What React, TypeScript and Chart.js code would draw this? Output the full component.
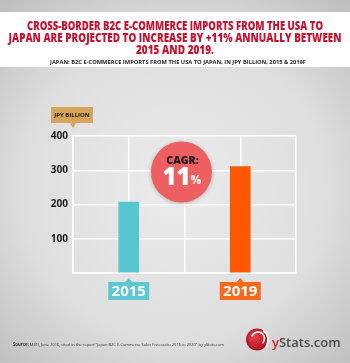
import React, { useEffect, useRef } from "react";
import { Chart, registerables } from "chart.js";

Chart.register(...registerables);

const titleLines = [
  "CROSS-BORDER B2C E-COMMERCE IMPORTS FROM THE USA TO",
  "JAPAN ARE PROJECTED TO INCREASE BY +11% ANNUALLY BETWEEN",
  "2015 AND 2019.",
];
const subtitle = "JAPAN: B2C E-COMMERCE IMPORTS FROM THE USA TO JAPAN, IN JPY BILLION, 2015 & 2019F";
const categories = ["2015", "2019"];
const values = [207, 311];
const barColors = ["#56c6d0", "#ff5800"];
const labelColors = ["#5bc8d2", "#f76a1c"];
const yMax = 400;
const yStep = 100;
const unitLabel = "JPY BILLION";
const cagrLabel = "CAGR:";
const cagrValue = "11";
const sourceBold = "Source:";
const sourceText = " METI, June 2016, cited in the report \"Japan B2C E-Commerce Sales Forecasts: 2016 to 2020\" by yStats.com";

// category slots: empty slot between/around the bars
const slotLabels: string[] = ["", categories[0], "", categories[1], ""];
const slotValues: (number | null)[] = [null, values[0], null, values[1], null];
const slotColors: string[] = ["transparent", barColors[0], "transparent", barColors[1], "transparent"];

const FONT = "'Open Sans', 'Noto Sans', sans-serif";

function roundRect(ctx: CanvasRenderingContext2D, x: number, y: number, w: number, h: number) {
  ctx.beginPath();
  ctx.rect(x, y, w, h);
  ctx.closePath();
}

const decorPlugin = {
  id: "decor",
  beforeDraw(chart: any) {
    const ctx: CanvasRenderingContext2D = chart.ctx;
    const W = chart.width, H = chart.height;
    ctx.save();
    const g = ctx.createRadialGradient(W / 2, H * 0.52, 10, W / 2, H * 0.52, 270);
    g.addColorStop(0, "#ebebeb");
    g.addColorStop(0.55, "#dedede");
    g.addColorStop(1, "#b9b9b9");
    ctx.fillStyle = g;
    ctx.fillRect(0, 0, W, H);
    // header band
    ctx.fillStyle = "#ffffff";
    ctx.fillRect(0, 12, W, 55);
    ctx.restore();
  },
  afterDatasetsDraw(chart: any) {
    const ctx: CanvasRenderingContext2D = chart.ctx;
    const xs = chart.scales.x;
    const ys = chart.scales.y;
    const area = chart.chartArea;
    ctx.save();

    // title
    ctx.fillStyle = "#c8112f";
    ctx.textAlign = "center";
    ctx.textBaseline = "middle";
    ctx.font = `800 12.5px ${FONT}`;
    const tw = [296, 333, 78];
    const ty = [26, 38, 50];
    titleLines.forEach((t, i) => ctx.fillText(t, 175, ty[i], tw[i]));
    ctx.fillStyle = "#222";
    ctx.font = `700 6px ${FONT}`;
    ctx.fillText(subtitle, 178, 62, 256);

    // unit label box
    const ux = area.left;
    ctx.fillStyle = "#d6a55a";
    roundRect(ctx, ux - 22, 107, 42, 16);
    ctx.fill();
    ctx.beginPath();
    ctx.moveTo(ux - 3, 123);
    ctx.lineTo(ux + 3, 123);
    ctx.lineTo(ux, 128);
    ctx.closePath();
    ctx.fill();
    ctx.fillStyle = "#1a1a1a";
    ctx.font = `700 6px ${FONT}`;
    ctx.fillText(unitLabel, ux - 1, 115.5, 36);

    // category label boxes
    const meta = chart.getDatasetMeta(0);
    categories.forEach((c, i) => {
      const el = meta.data[i * 2 + 1];
      const cx = el.x;
      const top = 282;
      ctx.fillStyle = labelColors[i];
      roundRect(ctx, cx - 20.5, top, 41, 18);
      ctx.fill();
      ctx.beginPath();
      ctx.moveTo(cx - 3.5, top);
      ctx.lineTo(cx + 3.5, top);
      ctx.lineTo(cx, top - 4);
      ctx.closePath();
      ctx.fill();
      ctx.fillStyle = "#ffffff";
      ctx.font = `700 15px ${FONT}`;
      ctx.fillText(xs.getLabelForValue(i * 2 + 1), cx, top + 9.5);
    });

    // CAGR circle
    const c0 = meta.data[1].x, c1 = meta.data[3].x;
    const ccx = (c0 + c1) / 2 - 3;
    const ccy = ys.getPixelForValue(295);
    ctx.save();
    ctx.shadowColor = "rgba(0,0,0,0.25)";
    ctx.shadowBlur = 4;
    ctx.shadowOffsetY = 1;
    ctx.fillStyle = "#ee5f62";
    ctx.beginPath();
    ctx.arc(ccx, ccy, 30.5, 0, Math.PI * 2);
    ctx.fill();
    ctx.restore();
    ctx.fillStyle = "#1a1a1a";
    ctx.font = `800 10.5px ${FONT}`;
    ctx.fillText(cagrLabel, ccx + 1, ccy - 11);
    ctx.fillStyle = "#ffffff";
    ctx.font = `800 24px ${FONT}`;
    ctx.textAlign = "right";
    ctx.fillText(cagrValue, ccx + 9, ccy + 6);
    ctx.font = `700 12px ${FONT}`;
    ctx.textAlign = "left";
    ctx.fillText("%", ccx + 9, ccy + 9);

    // footer source
    ctx.textAlign = "left";
    ctx.fillStyle = "#333";
    ctx.font = `700 4.3px ${FONT}`;
    ctx.fillText(sourceBold, 13, 345);
    const bw = ctx.measureText(sourceBold).width;
    ctx.font = `400 4.3px ${FONT}`;
    ctx.fillText(sourceText, 13 + bw, 345, 211 - bw);

    // logo
    const lx = 257, ly = 339.5;
    const lg = ctx.createRadialGradient(lx - 4, ly - 4, 1, lx, ly, 12);
    lg.addColorStop(0, "#f04050");
    lg.addColorStop(1, "#a5101c");
    ctx.fillStyle = lg;
    ctx.beginPath();
    ctx.arc(lx, ly, 11, 0, Math.PI * 2);
    ctx.fill();
    ctx.strokeStyle = "#ffffff";
    ctx.lineWidth = 1.6;
    ctx.beginPath();
    ctx.arc(lx + 1, ly - 1, 6.5, Math.PI * 1.1, Math.PI * 0.25);
    ctx.stroke();
    ctx.beginPath();
    ctx.moveTo(lx + 6, ly - 9);
    ctx.quadraticCurveTo(lx + 14, ly - 4, lx + 9, ly + 8);
    ctx.stroke();
    ctx.font = `600 13px ${FONT}`;
    ctx.textBaseline = "alphabetic";
    ctx.fillStyle = "#d0202a";
    ctx.fillText("y", 272, 347);
    const yw = ctx.measureText("y").width;
    ctx.fillStyle = "#4a4a4a";
    ctx.fillText("Stats.com", 272 + yw, 347, 71 - yw);

    ctx.restore();
  },
};

export default function App() {
  const ref = useRef<HTMLCanvasElement>(null);
  useEffect(() => {
    if (!ref.current) return;
    const chart = new Chart(ref.current, {
      type: "bar",
      data: {
        labels: slotLabels,
        datasets: [
          {
            data: slotValues,
            backgroundColor: slotColors,
            barThickness: 20,
            borderWidth: 0,
          },
        ],
      },
      options: {
        animation: false,
        responsive: false,
        devicePixelRatio: 1,
        layout: { padding: { left: 0, top: 136, right: 54, bottom: 90 } },
        plugins: { legend: { display: false }, tooltip: { enabled: false } },
        scales: {
          x: {
            offset: false,
            grid: { offset: false, color: "#ffffff", lineWidth: 1.5, drawTicks: false },
            border: { color: "#ffffff", width: 1.5 },
            ticks: { display: false },
            afterFit: (s: any) => { s.height = 0; },
          },
          y: {
            min: 0,
            max: yMax,
            grid: { color: "#ffffff", lineWidth: 1.5, drawTicks: false },
            border: { color: "#ffffff", width: 1.5 },
            ticks: {
              stepSize: yStep,
              padding: 5,
              color: "#1a1a1a",
              font: { family: "'Open Sans', 'Noto Sans', sans-serif", size: 10, weight: "bold" },
              callback: (v: any) => (v === 0 ? "" : String(v)),
            },
            afterFit: (s: any) => { s.width = 73; },
          },
        },
      },
      plugins: [decorPlugin],
    });
    return () => chart.destroy();
  }, []);
  return (
    <div style={{ position: "absolute", left: 0, top: 0, width: 350, height: 363 }}>
      <canvas ref={ref} width={350} height={363} style={{ display: "block", width: 350, height: 363 }} />
    </div>
  );
}
